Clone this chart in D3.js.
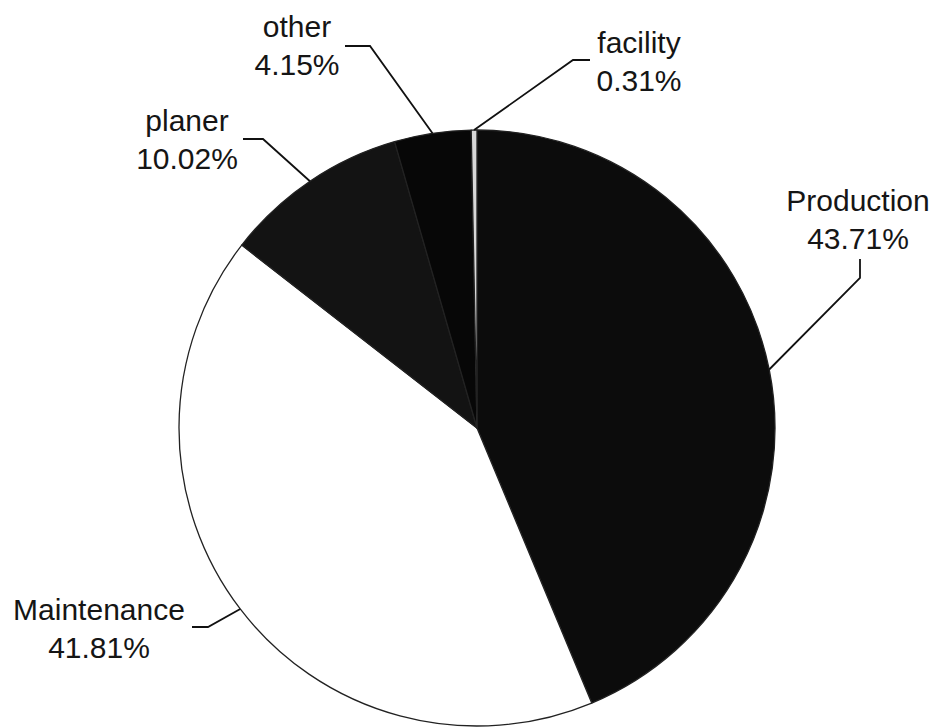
<!DOCTYPE html>
<html>
<head>
<meta charset="utf-8">
<script src="https://cdn.jsdelivr.net/npm/d3@7"></script>
<style>
  html, body { margin: 0; padding: 0; background: #ffffff; }
  svg { display: block; }
  text { font-family: "Liberation Sans", Arial, sans-serif; font-size: 30px; fill: #151515; }
</style>
</head>
<body>
<svg id="chart" width="933" height="727"></svg>
<script>
// Share of downtime by source (percent)
const categories = ["Production", "Maintenance", "planer", "other", "facility"];
const shares = [43.71, 41.81, 10.02, 4.15, 0.31];
const valueLabels = ["43.71%", "41.81%", "10.02%", "4.15%", "0.31%"];

// Slice fills
const fills = ["#0c0c0c", "#ffffff", "#131313", "#070707", "#d8d8d8"];

// Label placement: text centre, first baseline, and the leader's bend/end points
const labelLayout = {
  Production:  { x: 858, y: 211, bend: [860, 278], end: [860, 259] },
  Maintenance: { x: 99,  y: 620, bend: [208, 627], end: [192, 627] },
  planer:      { x: 187, y: 131, bend: [263, 139], end: [243, 139] },
  other:       { x: 297, y: 37,  bend: [370, 46],  end: [345, 46] },
  facility:    { x: 639, y: 53,  bend: [573, 60],  end: [590, 60] }
};
const lineGap = 38;

const cx = 477, cy = 428, radius = 298;

const svg = d3.select("#chart");
const g = svg.append("g").attr("transform", `translate(${cx},${cy})`);

const data = categories.map((c, i) => ({ name: c, value: shares[i], label: valueLabels[i], fill: fills[i] }));

const pie = d3.pie().sort(null).value(d => d.value).startAngle(0).endAngle(2 * Math.PI);
const arcs = pie(data);

const arc = d3.arc().innerRadius(0).outerRadius(radius);
const rim = d3.arc().innerRadius(radius).outerRadius(radius);

g.selectAll("path.slice")
  .data(arcs)
  .join("path")
  .attr("class", "slice")
  .attr("d", arc)
  .attr("fill", d => d.data.fill)
  .attr("stroke", "#222")
  .attr("stroke-width", 1.3)
  .attr("stroke-linejoin", "round");

// Leader lines from each slice's rim midpoint to its label
svg.selectAll("polyline.leader")
  .data(arcs)
  .join("polyline")
  .attr("class", "leader")
  .attr("fill", "none")
  .attr("stroke", "#111")
  .attr("stroke-width", 1.8)
  .attr("points", d => {
    const [px, py] = rim.centroid(d);
    const L = labelLayout[d.data.name];
    return [[px + cx, py + cy], L.bend, L.end].map(p => p.join(",")).join(" ");
  });

// Two-line labels: category name over percentage
const labels = svg.selectAll("text.lbl")
  .data(arcs)
  .join("text")
  .attr("class", "lbl")
  .attr("text-anchor", "middle");

labels.append("tspan")
  .attr("x", d => labelLayout[d.data.name].x)
  .attr("y", d => labelLayout[d.data.name].y)
  .text(d => d.data.name);

labels.append("tspan")
  .attr("x", d => labelLayout[d.data.name].x)
  .attr("y", d => labelLayout[d.data.name].y + lineGap)
  .text(d => d.data.label);
</script>
</body>
</html>
